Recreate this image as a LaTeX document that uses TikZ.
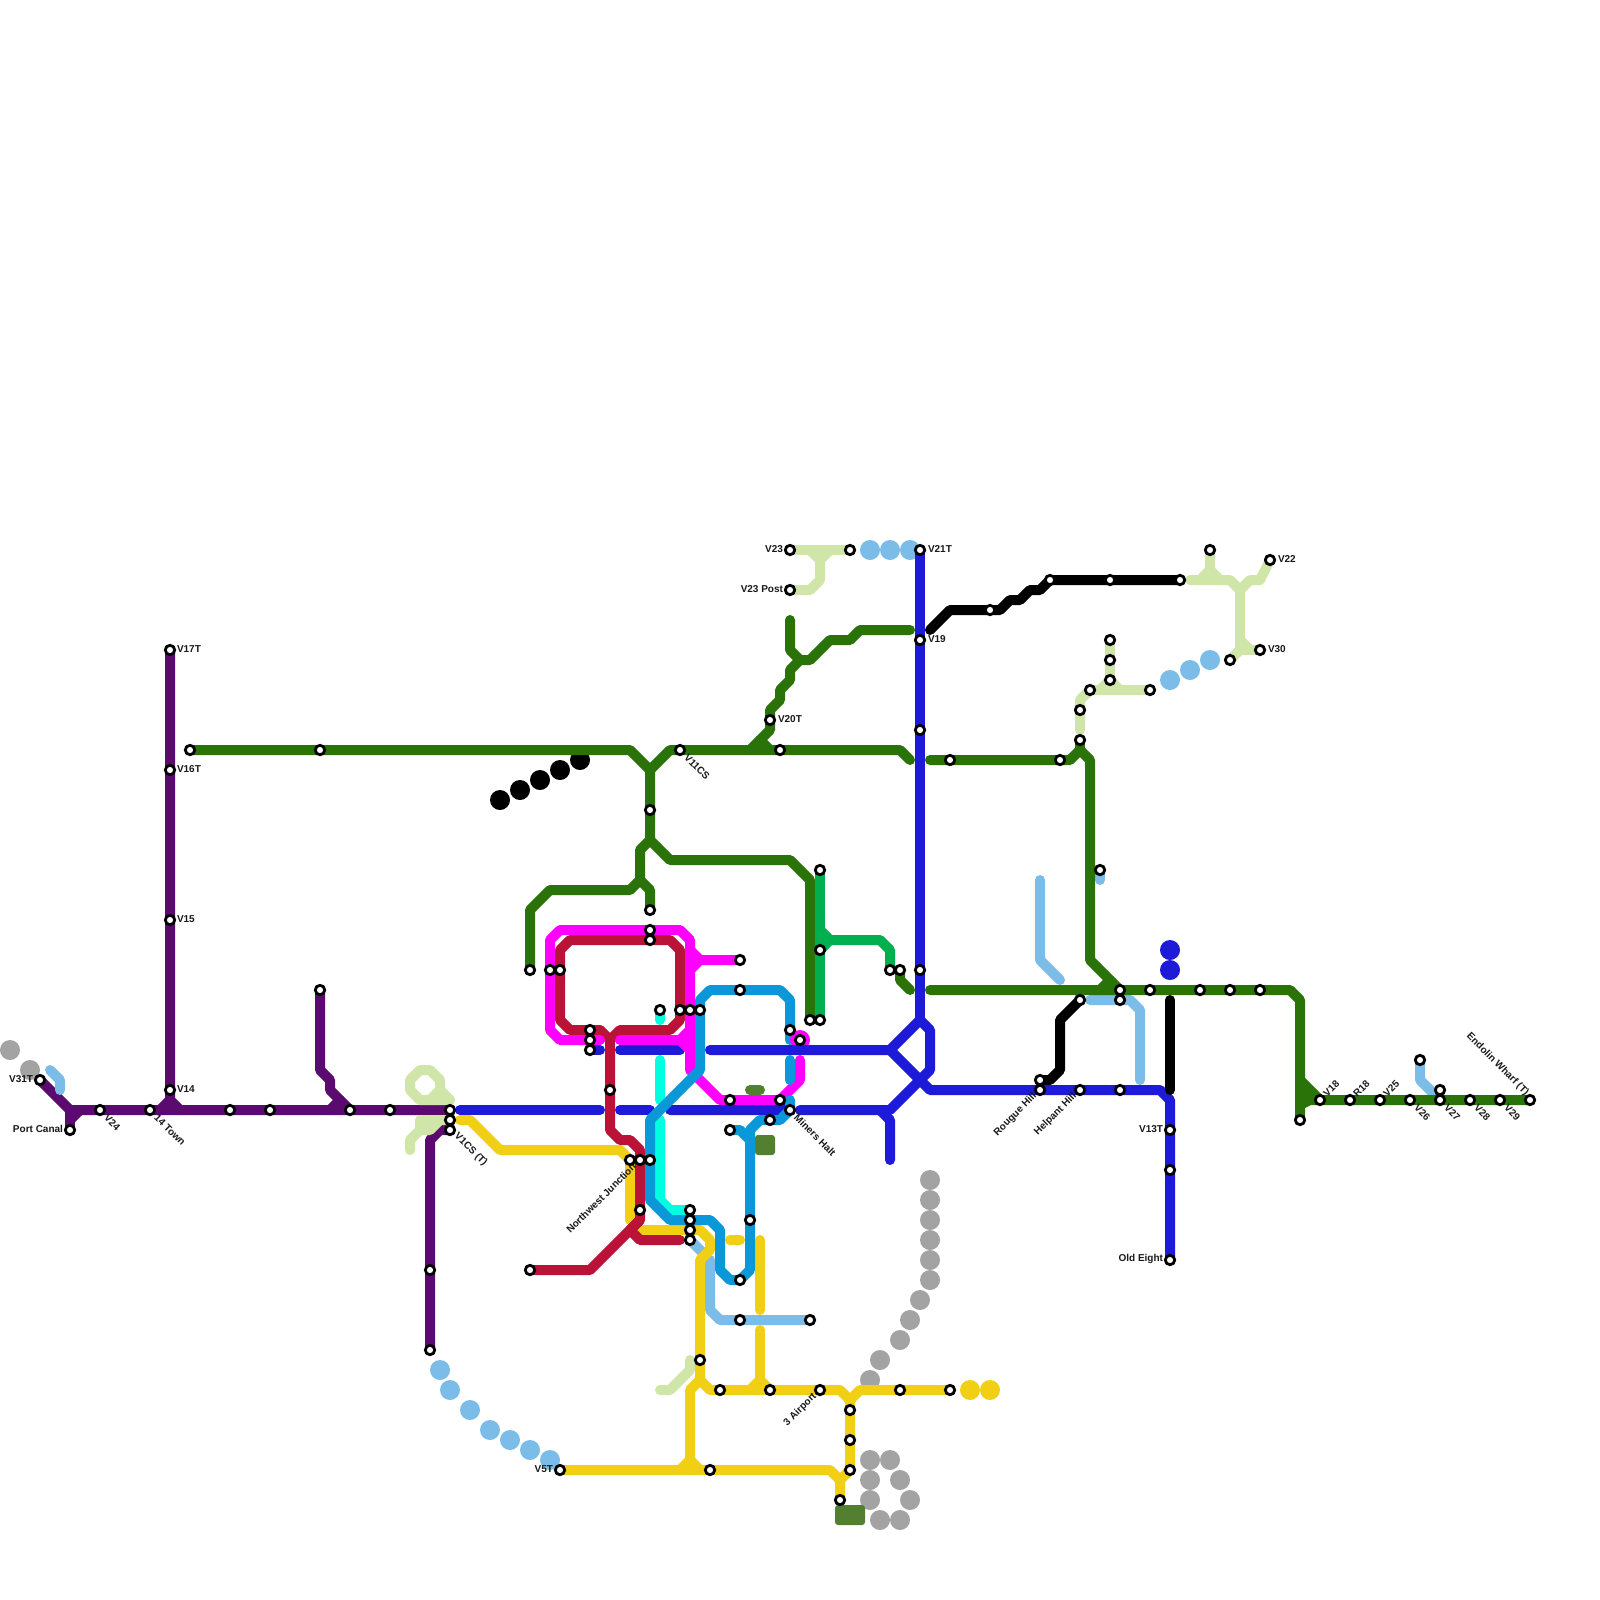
\documentclass[tikz,border=0pt]{standalone}
\usepackage{fontspec}
\setmainfont{Liberation Sans}
\definecolor{cpurple}{HTML}{5B0A70}
\definecolor{cpale}{HTML}{D0E6A8}
\definecolor{csky}{HTML}{7BBDE8}
\definecolor{cgreen}{HTML}{2A7309}
\definecolor{cblue}{HTML}{1D1AD8}
\definecolor{cyell}{HTML}{F1CF15}
\definecolor{ccrim}{HTML}{BB1237}
\definecolor{cmag}{HTML}{FF00FF}
\definecolor{caqua}{HTML}{00FFE0}
\definecolor{ccyan}{HTML}{0B98D8}
\definecolor{cmid}{HTML}{00B050}
\definecolor{colive}{HTML}{538030}
\definecolor{cgray}{HTML}{A3A3A3}
\tikzset{
 route/.style={line width=5pt,line cap=round,line join=round},
 stn/.style={circle,draw=black,fill=white,line width=1.4pt,minimum size=4.7pt,inner sep=0pt,outer sep=0pt},
 bigdot/.style={circle,inner sep=0pt,outer sep=0pt,minimum size=10pt},
 oliveblock/.style={rounded corners=1.5pt,fill=colive,inner sep=0pt,outer sep=0pt},
 lab/.style={font=\fontsize{5}{6}\selectfont\bfseries,inner sep=0pt,outer sep=0pt,text=black!90},
 labl/.style={lab,anchor=west},
 labr/.style={lab,anchor=east},
 labdn/.style={lab,anchor=west,rotate=-45},
 labup/.style={lab,anchor=west,rotate=45},
 labupr/.style={lab,anchor=east,rotate=45},
 labdnr/.style={lab,anchor=east,rotate=-45},
}
\newcommand{\stnlist}{40/1080,70/1130,100/1110,150/1110,170/650,170/770,170/920,170/1090,230/1110,270/1110,320/990,350/1110,390/1110,450/1110,450/1120,450/1130,430/1270,430/1350,
190/750,320/750,680/750,780/750,770/720,790/550,790/590,850/550,920/550,920/640,920/730,920/970,950/760,1060/760,1080/740,1080/710,1090/690,1150/690,1110/680,1110/660,1110/640,1180/580,1110/580,1050/580,990/610,1210/550,1270/560,1260/650,1230/660,
650/810,650/910,650/930,650/940,530/970,550/970,560/970,590/1030,590/1040,590/1050,660/1010,680/1010,690/1010,700/1010,740/960,740/990,790/1030,800/1040,810/1020,820/1020,820/870,820/950,890/970,900/970,610/1090,730/1100,780/1100,790/1110,770/1120,730/1130,630/1160,640/1160,650/1160,640/1210,690/1210,690/1220,690/1230,690/1240,750/1220,740/1280,740/1320,810/1320,530/1270,700/1360,720/1390,770/1390,820/1390,900/1390,950/1390,850/1410,850/1440,850/1470,840/1500,710/1470,560/1470,
1100/870,1120/990,1120/1000,1150/990,1200/990,1230/990,1260/990,1080/1000,1040/1080,1040/1090,1080/1090,1120/1090,1170/1130,1170/1170,1170/1260,1300/1120,1320/1100,1350/1100,1380/1100,1410/1100,1440/1100,1470/1100,1500/1100,1530/1100,1440/1090,1420/1060}
\begin{document}
\begin{tikzpicture}[x=0.5pt,y=-0.5pt]
\useasboundingbox (0,0) rectangle (1600,1600);
\fill[white] (0,0) rectangle (1600,1600);
\foreach \x/\y in \stnlist {\coordinate (s\x-\y) at (\x,\y);}
% free-standing dots
\foreach \x/\y in {10/1050,30/1070,930/1180,930/1200,930/1220,930/1240,930/1260,930/1280,920/1300,910/1320,900/1340,880/1360,870/1380,870/1460,890/1460,870/1480,900/1480,870/1500,910/1500,880/1520,900/1520}
 \node[bigdot,fill=cgray] (g\x-\y) at (\x,\y) {};
\foreach \x/\y in {440/1370,450/1390,470/1410,490/1430,510/1440,530/1450,550/1460,870/550,890/550,910/550,1170/680,1190/670,1210/660}
 \node[bigdot,fill=csky] (k\x-\y) at (\x,\y) {};
\foreach \x/\y in {500/800,520/790,540/780,560/770,580/760}
 \node[bigdot,fill=black] (b\x-\y) at (\x,\y) {};
\foreach \x/\y in {1170/950,1170/970}
 \node[bigdot,fill=cblue] (u\x-\y) at (\x,\y) {};
\foreach \x/\y in {970/1390,990/1390}
 \node[bigdot,fill=cyell] (y\x-\y) at (\x,\y) {};
\node[oliveblock,minimum width=15pt,minimum height=10pt] (olive1) at (850,1515) {};
\node[oliveblock,minimum width=10pt,minimum height=10pt] (olive2) at (765,1145) {};
\draw[route,colive] (750,1090) -- (760,1090);
% purple
\begin{scope}[route,cpurple]
\draw (s40-1080) -- (70,1110) -- (s450-1110);
\draw (s70-1130) -- (70,1110);
\draw (70,1120) -- (80,1110);
\draw (s170-650) -- (s170-1090) -- (170,1100) -- (180,1110);
\draw (170,1100) -- (160,1110);
\draw (s320-990) -- (320,1070) -- (330,1080) -- (330,1090) -- (s350-1110);
\draw (330,1110) -- (340,1100);
\draw (s430-1350) -- (430,1140) -- (440,1130) -- (s450-1130);
\end{scope}
% pale green
\begin{scope}[route,cpale]
\draw (420,1070) -- (430,1070) -- (440,1080) -- (440,1090) -- (450,1100) -- (420,1100) -- (410,1090) -- (410,1080) -- cycle;
\draw (440,1090) -- (430,1100);
\draw (450,1120) -- (420,1120) -- (420,1130) -- (410,1140) -- (410,1150);
\draw (420,1130) -- (430,1130) -- (440,1120);
\draw (s790-550) -- (s850-550);
\draw (s790-590) -- (810,590) -- (820,580) -- (820,560) -- (830,550);
\draw (810,550) -- (820,560);
\draw (1190,580) -- (1230,580) -- (1240,590) -- (1250,580) -- (1260,580) -- (s1270-560);
\draw (s1210-550) -- (1210,570) -- (1220,580);
\draw (1210,570) -- (1200,580);
\draw (1240,590) -- (1240,650) -- (s1260-650);
\draw (1240,640) -- (1250,650);
\draw (s1230-660) -- (1240,650);
\draw (1080,730) -- (1080,700) -- (1090,690) -- (s1150-690);
\draw (s1110-640) -- (1110,680) -- (1120,690);
\draw (1110,680) -- (1100,690);
\draw (660,1390) -- (670,1390) -- (690,1370) -- (690,1360);
\end{scope}
% sky
\begin{scope}[route,csky]
\draw (50,1070) -- (60,1080) -- (60,1090);
\draw (1040,880) -- (1040,960) -- (1060,980);
\draw (1090,1000) -- (1130,1000) -- (1140,1010) -- (1140,1080);
\draw (s1100-870) -- (1100,880);
\draw (s1420-1060) -- (1420,1080) -- (s1440-1100);
\draw (690,1240) -- (702,1252);
\draw (710,1260) -- (710,1310) -- (720,1320) -- (s810-1320);
\end{scope}
% dark green
\begin{scope}[route,cgreen]
\draw (s190-750) -- (630,750) -- (650,770) -- (670,750) -- (900,750) -- (910,760);
\draw (650,770) -- (650,840) -- (670,860) -- (790,860) -- (810,880) -- (s810-1020);
\draw (650,840) -- (640,850) -- (640,880) -- (630,890) -- (550,890) -- (530,910) -- (s530-970);
\draw (640,880) -- (650,890) -- (s650-910);
\draw (750,750) -- (770,730) -- (770,710) -- (780,700) -- (780,690) -- (790,680) -- (790,670) -- (800,660) -- (810,660) -- (830,640) -- (850,640) -- (860,630) -- (910,630);
\draw (790,620) -- (790,650) -- (800,660);
\draw (760,740) -- (770,750);
\draw (930,760) -- (1070,760) -- (1080,750) -- (1090,760) -- (1090,960) -- (s1120-990);
\draw (1080,750) -- (s1080-740);
\draw (930,990) -- (1290,990) -- (1300,1000) -- (s1300-1120);
\draw (1100,990) -- (1110,980);
\draw (1300,1080) -- (s1320-1100) -- (s1530-1100);
\draw (1300,1095) -- (1310,1095);
\draw (1300,1105) -- (1310,1100) -- (s1320-1100);
\draw (s900-970) -- (900,980) -- (910,990);
\end{scope}
% mid green
\begin{scope}[route,cmid]
\draw (s820-870) -- (s820-1020);
\draw (820,930) -- (830,940) -- (880,940) -- (890,950) -- (s890-970);
\draw (s820-950) -- (830,940);
\end{scope}
% blue
\begin{scope}[route,cblue]
\draw (460,1110) -- (600,1110);
\draw (620,1110) -- (650,1110);
\draw (670,1110) -- (780,1110) -- (786,1104);
\draw (800,1110) -- (890,1110) -- (930,1070) -- (930,1030) -- (920,1020) -- (890,1050) -- (710,1050);
\draw (s590-1050) -- (600,1050);
\draw (620,1050) -- (680,1050);
\draw (s920-550) -- (920,1020);
\draw (890,1050) -- (930,1090) -- (1160,1090) -- (1170,1100) -- (s1170-1260);
\draw (880,1110) -- (890,1120) -- (890,1160);
\end{scope}
% black
\begin{scope}[route,black]
\draw (930,630) -- (950,610) -- (1000,610) -- (1010,600) -- (1020,600) -- (1030,590) -- (1040,590) -- (1050,580) -- (s1180-580);
\draw (s1080-1000) -- (1060,1020) -- (1060,1070) -- (1050,1080) -- (s1040-1080);
\draw (1170,1000) -- (1170,1090);
\end{scope}
% yellow
\begin{scope}[route,cyell]
\draw (460,1120) -- (470,1120) -- (500,1150) -- (620,1150) -- (630,1160) -- (630,1220);
\draw (640,1230) -- (700,1230) -- (710,1240) -- (710,1250) -- (700,1260) -- (700,1380) -- (710,1390) -- (840,1390) -- (850,1400) -- (860,1390) -- (s950-1390);
\draw (700,1380) -- (690,1390) -- (690,1460) -- (680,1470);
\draw (690,1460) -- (700,1470);
\draw (s560-1470) -- (830,1470) -- (840,1480) -- (s840-1500);
\draw (840,1480) -- (850,1470) -- (850,1400);
\draw (750,1390) -- (760,1380) -- (770,1390);
\draw (760,1330) -- (760,1380);
\draw (760,1240) -- (760,1310);
\draw (730,1240) -- (740,1240);
\end{scope}
% crimson
\begin{scope}[route,ccrim]
\draw (600,1030) -- (570,1030) -- (560,1020) -- (560,950) -- (570,940) -- (670,940) -- (680,950) -- (680,1020) -- (670,1030) -- (620,1030) -- (610,1040);
\draw (600,1030) -- (610,1040) -- (610,1130) -- (620,1140) -- (630,1140) -- (640,1150) -- (640,1220) -- (590,1270) -- (s530-1270);
\draw (640,1220) -- (630,1230) -- (640,1240) -- (680,1240);
\end{scope}
% magenta
\begin{scope}[route,cmag]
\draw (600,1040) -- (560,1040) -- (550,1030) -- (550,940) -- (560,930) -- (680,930) -- (690,940) -- (690,1070) -- (720,1100) -- (780,1100) -- (800,1080) -- (800,1060);
\draw (620,1040) -- (680,1040) -- (690,1030);
\draw (680,1040) -- (690,1050);
\draw (690,950) -- (700,960) -- (s740-960);
\draw (700,960) -- (690,970);
\end{scope}
% aqua
\begin{scope}[route,caqua]
\draw (s660-1010) -- (660,1020);
\draw (660,1060) -- (660,1100);
\draw (660,1120) -- (660,1200) -- (670,1210) -- (s690-1210);
\end{scope}
% cyan
\begin{scope}[route,ccyan]
\draw (790,1040) -- (790,1000) -- (780,990) -- (710,990) -- (700,1000) -- (700,1070) -- (650,1120) -- (650,1200) -- (670,1220) -- (710,1220) -- (720,1230) -- (720,1270) -- (730,1280) -- (740,1280) -- (750,1270) -- (750,1130) -- (760,1120) -- (780,1120) -- (790,1110) -- (790,1100);
\draw (s730-1130) -- (740,1130) -- (750,1140);
\draw (790,1060) -- (790,1080);
\end{scope}
\node[bigdot,fill=cmag] (ringm) at (s800-1040) {};
\draw[route,cblue] (770,1050) -- (830,1050);
% stations
\foreach \x/\y in \stnlist {\node[stn] (n\x-\y) at (s\x-\y) {};}
% labels
\node[labr] (l1) at (33,1079) {V31T};
\node[labr] (l2) at (63,1129) {Port Canal};
\node[labdn] (l3) at (106,1116) {V24};
\node[labdn] (l4) at (156,1116) {14 Town};
\node[labl] (l5) at (177,1089) {V14};
\node[labl] (l6) at (177,919) {V15};
\node[labl] (l7) at (177,769) {V16T};
\node[labl] (l8) at (177,649) {V17T};
\node[labdn] (l9) at (456,1135) {V1CS (T)};
\node[labupr] (l10) at (634,1165) {Northwest Junction};
\node[labupr] (l11) at (815,1395) {3 Airport};
\node[labupr] (l12) at (1035,1095) {Rougue Hill};
\node[labupr] (l13) at (1075,1095) {Helpant Hill};
\node[labdn] (l14) at (796,1116) {Miners Halt};
\node[labdn] (l15) at (686,756) {V11CS};
\node[labl] (l16) at (778,719) {V20T};
\node[labl] (l17) at (928,639) {V19};
\node[labl] (l18) at (928,549) {V21T};
\node[labr] (l19) at (783,549) {V23};
\node[labr] (l20) at (783,589) {V23 Post};
\node[labl] (l21) at (1278,559) {V22};
\node[labl] (l22) at (1268,649) {V30};
\node[labr] (l23) at (1163,1129) {V13T};
\node[labr] (l24) at (1163,1259) {Old Eight};
\node[labr] (l25) at (553,1469) {V5T};
\node[labup] (l26) at (1325,1095) {V18};
\node[labup] (l27) at (1355,1095) {R18};
\node[labup] (l28) at (1385,1095) {V25};
\node[labdn] (l29) at (1416,1106) {V26};
\node[labdn] (l30) at (1446,1106) {V27};
\node[labdn] (l31) at (1476,1106) {V28};
\node[labdn] (l32) at (1506,1106) {V29};
\node[labdnr] (l33) at (1527,1094) {Endolin Wharf (T)};
\end{tikzpicture}
\end{document}
